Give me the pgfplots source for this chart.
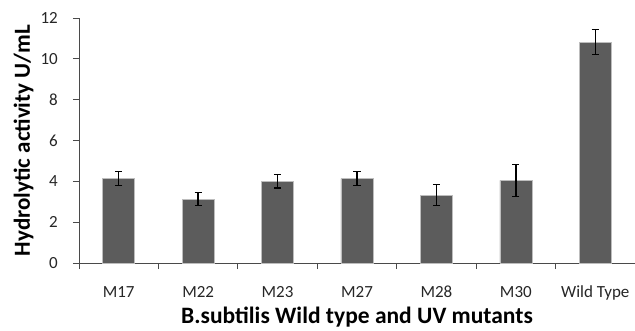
\documentclass[border=0pt]{standalone}
\usepackage{pgfplots}
\pgfplotsset{compat=1.18}
\usepackage{fontspec}
\setmainfont{Carlito}
\definecolor{barfill}{HTML}{5C5C5C}
\definecolor{baredge}{HTML}{BDBDBD}
\definecolor{axisgray}{HTML}{4A4A4A}
\begin{document}
\begin{tikzpicture}
\useasboundingbox (-79pt,-67pt) rectangle (556pt,263pt);
\begin{axis}[
  at={(0,0)}, anchor=south west,
  scale only axis, width=556pt, height=245pt,
  xmin=-0.5, xmax=6.5, ymin=0, ymax=12,
  axis x line*=bottom, axis y line*=left,
  axis line style={axisgray, line width=0.8pt},
  xtick={0,...,6},
  xticklabels={M17,M22,M23,M27,M28,M30,Wild Type},
  major x tick style={draw=none},
  minor xtick={-0.5,0.5,...,5.5},
  minor x tick style={axisgray, line width=0.8pt},
  minor tick length=6pt,
  ytick={0,2,...,12},
  y tick style={axisgray, line width=0.8pt},
  major tick length=6pt,
  tick align=outside,
  /pgf/number format/assume math mode=true,
  tick label style={font=\fontsize{17}{19}\selectfont, text=black!85},
  xticklabel style={anchor=base, inner sep=0pt, yshift=-28pt},
  yticklabel style={anchor=east, inner sep=0pt, xshift=-15pt},
  xlabel={B.subtilis Wild type and UV mutants},
  ylabel={Hydrolytic activity U/mL},
  every axis x label/.style={at={(rel axis cs:0.5,0)}, anchor=base, yshift=-60pt,
     font=\fontsize{23.5}{25}\selectfont\bfseries, inner sep=0pt},
  every axis y label/.style={at={(rel axis cs:0,0.5)}, rotate=90, anchor=base, yshift=49pt,
     font=\fontsize{23}{25}\selectfont\bfseries, inner sep=0pt},
]
\addplot[ybar, bar width=32pt, fill=barfill, draw=baredge, line width=0.6pt,
  error bars/.cd, y dir=both, y explicit,
  error bar style={black, line width=1.3pt},
  error mark options={rotate=90, mark size=3.6pt, line width=1.3pt, black}]
  table[x=x, y=y, y error=e] {
x y e
0 4.13 0.35
1 3.13 0.32
2 4.00 0.33
3 4.13 0.35
4 3.32 0.52
5 4.05 0.78
6 10.82 0.60
};
\end{axis}
\end{tikzpicture}
\end{document}
